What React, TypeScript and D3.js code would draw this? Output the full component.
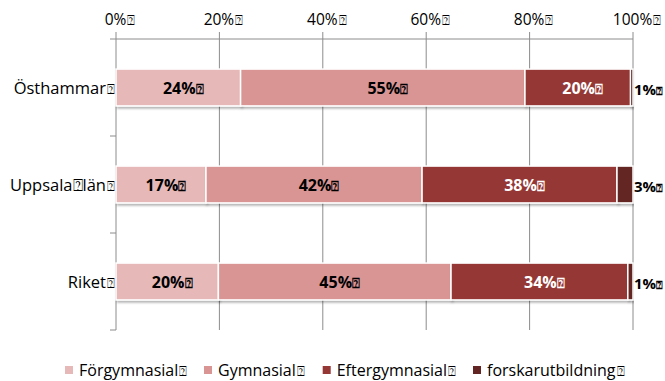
import React from "react";
import * as d3 from "d3";

const categories = ["Östhammar", "Uppsala län", "Riket"];
const seriesNames = ["Förgymnasial", "Gymnasial", "Eftergymnasial", "forskarutbildning"];
const forgymnasial = [24.1, 17.4, 19.8];
const gymnasial = [55.0, 41.8, 45.0];
const eftergymnasial = [20.4, 37.7, 34.2];
const forskarutbildning = [0.5, 3.1, 1.0];
const labels = [
  ["24%", "55%", "20%", "1%"],
  ["17%", "42%", "38%", "3%"],
  ["20%", "45%", "34%", "1%"],
];
const tickValues = [0, 20, 40, 60, 80, 100];
const colors = ["#E6B9B8", "#D99594", "#953735", "#632523"];
const labelColors = ["#000", "#000", "#fff", "#000"];
const TOFU = "\u2370";

const W = 665;
const H = 381;
const FONT = "'Open Sans', 'DejaVu Sans', sans-serif";

export default function App() {
  const x = d3.scaleLinear().domain([0, 100]).range([116, 633]);
  const y = d3
    .scaleBand<string>()
    .domain(categories)
    .range([39, 330])
    .paddingInner(0.62)
    .paddingOuter(0.31);
  const step = y.step();
  const rows = categories.map((c, i) => ({
    cat: c,
    s0: forgymnasial[i],
    s1: gymnasial[i],
    s2: eftergymnasial[i],
    s3: forskarutbildning[i],
  }));
  const stack = d3.stack<any>().keys(["s0", "s1", "s2", "s3"]);
  const layers = stack(rows);
  const top = 39;
  const bottom = 330;
  const legendX = [65, 204, 322.7, 473];

  return (
    <div style={{ position: "absolute", left: 0, top: 0 }}>
      <svg width={W} height={H} style={{ display: "block", fontFamily: FONT }}>
        <defs>
          <filter id="sh" x="-5%" y="-30%" width="110%" height="170%">
            <feDropShadow dx="1.5" dy="2" stdDeviation="1.2" floodColor="#000" floodOpacity="0.3" />
          </filter>
        </defs>
        <rect width={W} height={H} fill="#fff" />
        {tickValues.map((t) => (
          <line key={"g" + t} x1={x(t)} x2={x(t)} y1={32} y2={bottom} stroke="#8c8c8c" strokeWidth={1} />
        ))}
        <line x1={110} x2={x(100)} y1={top} y2={top} stroke="#8c8c8c" strokeWidth={1} />
        {[1, 2, 3].map((k) => (
          <line key={"yt" + k} x1={110} x2={116} y1={top + step * k} y2={top + step * k} stroke="#8c8c8c" strokeWidth={1} />
        ))}
        {tickValues.map((t) => (
          <text key={"tl" + t} x={x(t) + 4} y={25} textAnchor="middle" fontSize={15.5} fill="#000">
            {t + "%"}
            <tspan fontSize={13} dx={1}>{TOFU}</tspan>
          </text>
        ))}
        {layers.map((layer, li) =>
          layer.map((d, ri) => (
            <rect
              key={"b" + li + "-" + ri}
              x={x(d[0])}
              width={Math.max(0, x(d[1]) - x(d[0]))}
              y={y(categories[ri])}
              height={y.bandwidth()}
              fill={colors[li]}
              stroke="#fff"
              strokeWidth={1.5}
              filter="url(#sh)"
            />
          ))
        )}
        {layers.map((layer, li) =>
          layer.map((d, ri) => {
            const cy = (y(categories[ri]) as number) + y.bandwidth() / 2 + 6;
            const outside = li === 3;
            return (
              <text
                key={"l" + li + "-" + ri}
                x={outside ? x(100) + 1 : (x(d[0]) + x(d[1])) / 2 + 5}
                y={outside ? cy + 1 : cy}
                textAnchor={outside ? "start" : "middle"}
                fontSize={outside ? 15 : 16}
                fontWeight="bold"
                fill={labelColors[li]}
              >
                {labels[ri][li]}
                <tspan fontSize={outside ? 11 : 13} dx={0}>{TOFU}</tspan>
              </text>
            );
          })
        )}
        {categories.map((c) => (
          <text
            key={"c" + c}
            x={115}
            y={(y(c) as number) + y.bandwidth() / 2 + 6}
            textAnchor="end"
            fontSize={16.5}
            fill="#000"
          >
            {c.replace(" ", TOFU)}
            <tspan fontSize={13} dx={1}>{TOFU}</tspan>
          </text>
        ))}
        {seriesNames.map((s, i) => (
          <g key={"lg" + i}>
            <rect x={legendX[i]} y={366} width={8} height={8} fill={colors[i]} />
            <text x={legendX[i] + 14} y={376} fontSize={16} fill="#000">
              {s}
              <tspan fontSize={13} dx={1}>{TOFU}</tspan>
            </text>
          </g>
        ))}
      </svg>
    </div>
  );
}
